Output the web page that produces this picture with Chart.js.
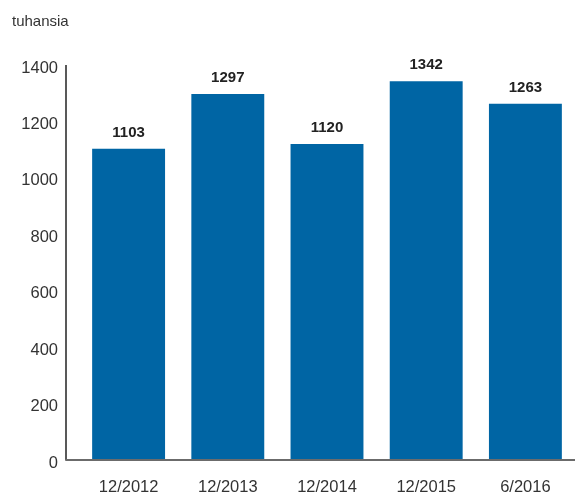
<!DOCTYPE html>
<html>
<head>
<meta charset="utf-8">
<script src="https://cdn.jsdelivr.net/npm/chart.js@4"></script>
<style>
  html, body { margin: 0; padding: 0; background: #fff; }
  #wrap { width: 576px; height: 494px; }
</style>
</head>
<body>
<div id="wrap"><canvas id="chart"></canvas></div>
<script>
// data
const categories = ['12/2012', '12/2013', '12/2014', '12/2015', '6/2016'];
const values = [1103, 1297, 1120, 1342, 1263];
const yTicks = [0, 200, 400, 600, 800, 1000, 1200, 1400];
const unitLabel = 'tuhansia';

const barColor = '#0065a4';
const textColor = '#333333';
const font = '"Liberation Sans", Arial, Helvetica, sans-serif';

// axis lines, unit text and value labels
const extras = {
  id: 'extras',
  afterDatasetsDraw(chart) {
    const ctx = chart.ctx;
    const area = chart.chartArea;
    const axisX = area.left - 13;
    ctx.save();
    // y axis line
    ctx.strokeStyle = '#222';
    ctx.lineWidth = 1.5;
    ctx.beginPath();
    ctx.moveTo(axisX, area.top);
    ctx.lineTo(axisX, area.bottom);
    ctx.stroke();
    // base line
    ctx.strokeStyle = '#6b6b6b';
    ctx.lineWidth = 2;
    ctx.beginPath();
    ctx.moveTo(axisX - 0.75, area.bottom);
    ctx.lineTo(area.right, area.bottom);
    ctx.stroke();
    // unit
    ctx.fillStyle = textColor;
    ctx.font = '15px ' + font;
    ctx.textAlign = 'left';
    ctx.textBaseline = 'alphabetic';
    ctx.fillText(unitLabel, 12, 26);
    // value labels
    ctx.font = 'bold 15px ' + font;
    ctx.fillStyle = '#222';
    ctx.textAlign = 'center';
    chart.getDatasetMeta(0).data.forEach((bar, i) => {
      ctx.fillText(String(values[i]), bar.x, bar.y - 12);
    });
    ctx.restore();
  }
};

new Chart(document.getElementById('chart'), {
  type: 'bar',
  data: {
    labels: categories,
    datasets: [{
      data: values,
      backgroundColor: barColor,
      borderWidth: 0,
      categoryPercentage: 1,
      barPercentage: 0.735
    }]
  },
  options: {
    responsive: true,
    maintainAspectRatio: false,
    animation: false,
    layout: { padding: { top: 65, right: 1, left: 0, bottom: 0 } },
    plugins: {
      legend: { display: false },
      tooltip: { enabled: false }
    },
    scales: {
      x: {
        afterFit(scale) { scale.height = 34; },
        grid: { display: false, drawTicks: false },
        border: { display: false },
        ticks: {
          color: textColor,
          font: { family: font, size: 16.5 },
          padding: 18,
          maxRotation: 0
        }
      },
      y: {
        min: 0,
        max: 1400,
        afterFit(scale) { scale.width = 79; },
        afterBuildTicks(scale) { scale.ticks = yTicks.map(v => ({ value: v })); },
        grid: { display: false, drawTicks: false },
        border: { display: false },
        ticks: {
          color: textColor,
          font: { family: font, size: 16.5 },
          padding: 21,
          labelOffset: 3,
          callback: v => String(v)
        }
      }
    }
  },
  plugins: [extras]
});
</script>
</body>
</html>
